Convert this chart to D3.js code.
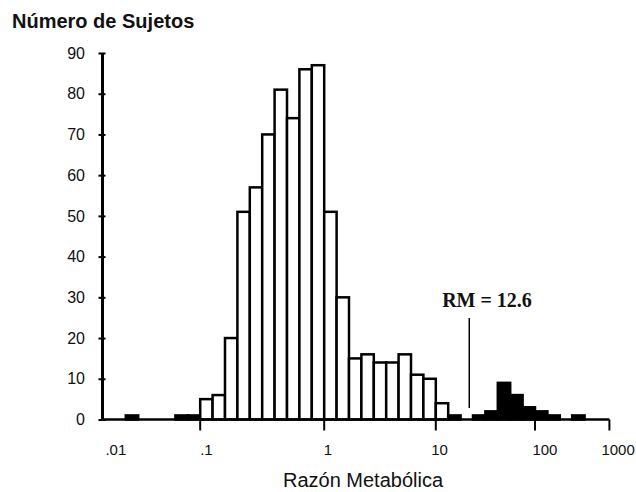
<!DOCTYPE html>
<html>
<head>
<meta charset="utf-8">
<script src="https://cdn.jsdelivr.net/npm/d3@7"></script>
<style>
  body { margin: 0; background: #fff; }
  svg { display: block; }
</style>
</head>
<body>
<svg id="chart" width="636" height="492"></svg>
<script>
// counts per bin of metabolic ratio (log-spaced bins, left to right)
const counts = [0, 0, 1, 0, 0, 0, 1, 1, 5, 6, 20, 51, 57, 70, 81, 74, 86, 87, 51, 30,
                15, 16, 14, 14, 16, 11, 10, 4, 1, 0, 1, 2, 9, 6, 3, 2, 1, 0, 1, 0, 0];
const firstPoorBin = 30; // bins above the antimode are filled black
const xTickLabels = [".01", ".1", "1", "10", "100", "1000"];
const xTickBins = [0, 8, 18, 27, 35, 41];              // bin edge of each tick
const xLabelBins = [1.2, 8.5, 18.3, 27.3, 35.8, 41.7]; // where the label sits
const yTicks = [0, 10, 20, 30, 40, 50, 60, 70, 80, 90];
const antimode = { label: "RM = 12.6", bin: 29.7 };

const sans = "Arial, 'Liberation Sans', sans-serif";
const serif = "'Times New Roman', 'Liberation Serif', serif";

const svg = d3.select("#chart");

const x = d3.scaleLinear().domain([0, counts.length]).range([101, 609.4]);
const y = d3.scaleLinear().domain([0, 90]).range([419.5, 53]);

// bars (the one-subject bars print solid in the original)
const bars = counts.map((v, i) => ({ v, i })).filter(d => d.v > 0);
svg.append("g")
  .selectAll("rect")
  .data(bars)
  .join("rect")
  .attr("x", d => x(d.i))
  .attr("y", d => y(d.v))
  .attr("width", x(1) - x(0))
  .attr("height", d => y(0) - y(d.v))
  .attr("fill", d => (d.i >= firstPoorBin || d.v <= 1) ? "#000" : "#fff")
  .attr("stroke", "#000")
  .attr("stroke-width", 2.5);

// x axis baseline + ticks
svg.append("line")
  .attr("x1", x(0)).attr("x2", x(counts.length))
  .attr("y1", y(0)).attr("y2", y(0))
  .attr("stroke", "#000").attr("stroke-width", 2.5);

svg.append("g")
  .selectAll("line")
  .data(xTickBins.slice(1))
  .join("line")
  .attr("x1", d => x(d)).attr("x2", d => x(d))
  .attr("y1", y(0)).attr("y2", y(0) + 11)
  .attr("stroke", "#000").attr("stroke-width", 2);

svg.append("g")
  .selectAll("text")
  .data(xTickLabels)
  .join("text")
  .attr("x", (d, i) => x(xLabelBins[i]))
  .attr("y", 455)
  .attr("text-anchor", "middle")
  .style("font-family", sans)
  .style("font-size", "15px")
  .attr("fill", "#111")
  .text(d => d);

// y axis
const yAxis = d3.axisLeft(y).tickValues(yTicks).tickSize(0).tickPadding(17);
const gy = svg.append("g").attr("transform", "translate(102,0)").call(yAxis);
gy.select(".domain").attr("stroke", "#000").attr("stroke-width", 3);
gy.selectAll(".tick text")
  .style("font-family", sans)
  .style("font-size", "16px")
  .attr("fill", "#111");
gy.selectAll(".tick")
  .append("line")
  .attr("x1", -3.5).attr("x2", 3.5)
  .attr("stroke", "#000").attr("stroke-width", 2);

// titles
svg.append("text")
  .attr("x", 12).attr("y", 28)
  .style("font-family", sans)
  .style("font-size", "20px")
  .style("font-weight", "bold")
  .attr("fill", "#111")
  .text("Número de Sujetos");

svg.append("text")
  .attr("x", 363).attr("y", 487)
  .attr("text-anchor", "middle")
  .style("font-family", sans)
  .style("font-size", "20px")
  .attr("fill", "#111")
  .text("Razón Metabólica");

// antimode marker
svg.append("line")
  .attr("x1", x(antimode.bin)).attr("x2", x(antimode.bin))
  .attr("y1", 318).attr("y2", 408)
  .attr("stroke", "#000").attr("stroke-width", 1.5);

svg.append("text")
  .attr("x", 487).attr("y", 307)
  .attr("text-anchor", "middle")
  .style("font-family", serif)
  .style("font-weight", "bold")
  .style("font-size", "20px")
  .attr("fill", "#111")
  .text(antimode.label);
</script>
</body>
</html>
